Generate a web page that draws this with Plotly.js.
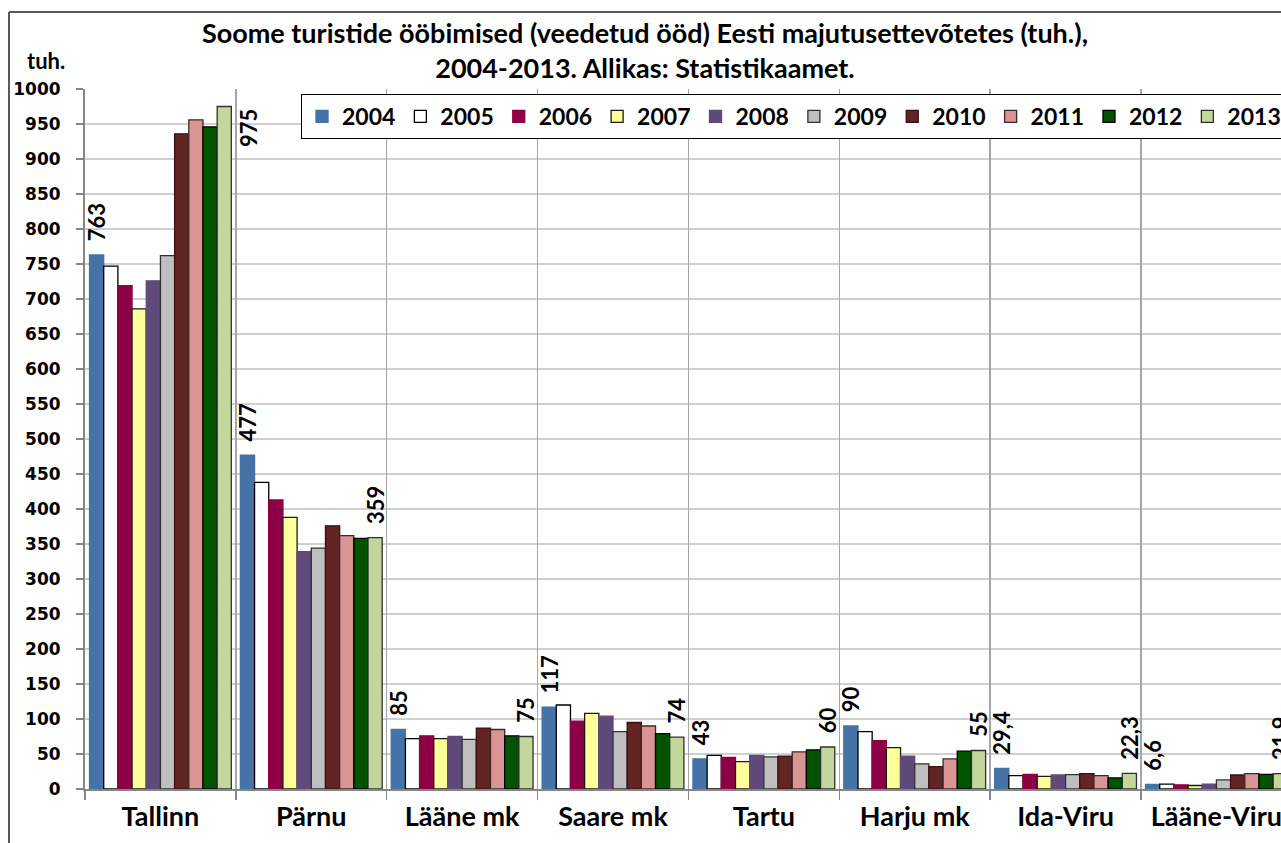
<!DOCTYPE html>
<html>
<head>
<meta charset="utf-8">
<script src="https://cdn.plot.ly/plotly-3.0.1.min.js"></script>
<style>html,body{margin:0;padding:0;background:#fff;}#chart{width:1281px;height:843px;}</style>
</head>
<body>
<div id="chart"></div>
<script>
// ---- data ----
const categories = ['Tallinn', 'Pärnu', 'Lääne mk', 'Saare mk', 'Tartu', 'Harju mk', 'Ida-Viru', 'Lääne-Viru'];
const years = ['2004', '2005', '2006', '2007', '2008', '2009', '2010', '2011', '2012', '2013'];
const v2004 = [763, 477, 85, 117, 43, 90, 29.4, 6.6];
const v2005 = [747, 438, 72, 120, 48, 82, 19, 7];
const v2006 = [719, 413, 76, 97, 45, 69, 21, 6];
const v2007 = [686, 388, 72, 108, 39, 59, 18, 5];
const v2008 = [726, 339, 75, 104, 48, 47, 20, 7];
const v2009 = [762, 344, 71, 82, 46, 36, 20.5, 13];
const v2010 = [936, 376, 87, 95, 47, 32, 22, 20];
const v2011 = [956, 362, 85, 90, 53, 43, 19, 22];
const v2012 = [946, 358, 76, 79, 56, 54, 16, 21];
const v2013 = [975, 359, 75, 74, 60, 55, 22.3, 21.9];
const yTicks = [0, 50, 100, 150, 200, 250, 300, 350, 400, 450, 500, 550, 600, 650, 700, 750, 800, 850, 900, 950, 1000];
const titleLine1 = 'Soome turistide ööbimised (veedetud ööd) Eesti majutusettevõtetes (tuh.),';
const titleLine2 = '2004-2013. Allikas: Statistikaamet.';
const unitLabel = 'tuh.';

// ---- styling ----
const seriesValues = [v2004, v2005, v2006, v2007, v2008, v2009, v2010, v2011, v2012, v2013];
const fills = ['#4573a7', '#ffffff', '#8e0045', '#ffff99', '#604a7b', '#bfbfbf', '#632523', '#d99594', '#005400', '#c3d69b'];
const outlines = ['#4573a7', '#000000', '#8e0045', '#1a1a1a', '#604a7b', '#303030', '#3a1010', '#3a2a2a', '#000000', '#303030'];
const labelled = {0: true, 9: true};
const fmt = v => String(v).replace('.', ',');
const LATO = 'Lato, "Noto Sans", sans-serif';

const traces = years.map((yr, i) => {
  const t = {
    type: 'bar',
    name: yr,
    x: categories,
    y: seriesValues[i],
    marker: {color: fills[i], line: {color: outlines[i], width: 1.3}},
    hoverinfo: 'x+y+name',
    cliponaxis: false
  };
  if (labelled[i]) {
    // leading no-break spaces leave a small gap between bar top and rotated label
    t.text = seriesValues[i].map((v, j) => (i === 9 && j === 0) ? '' : '\u00a0\u00a0' + fmt(v));
    t.textposition = 'outside';
    t.textangle = -90;
    t.constraintext = 'none';
    t.textfont = {family: LATO, size: 22, color: '#000', weight: 700};
  }
  return t;
});
// helper axis for category boundary lines
traces.push({type: 'scatter', x: [], y: [], xaxis: 'x2', yaxis: 'y', showlegend: false, hoverinfo: 'skip'});

const xRange = [-0.5, 7.428];

const layout = {
  width: 1281,
  height: 843,
  margin: {l: 85, r: 0, t: 89, b: 54, autoexpand: false},
  paper_bgcolor: '#ffffff',
  plot_bgcolor: '#ffffff',
  separators: ', ',
  barmode: 'group',
  bargap: 0.06,
  bargroupgap: 0,
  title: {
    text: titleLine1 + '<br>' + titleLine2,
    font: {family: LATO, size: 27, color: '#000', weight: 700},
    xref: 'container', x: 0.5035,
    yref: 'container', y: 1 - 43 / 843, yanchor: 'top'
  },
  xaxis: {
    type: 'category',
    range: xRange,
    showgrid: false,
    ticks: '',
    showline: true, linecolor: '#868686', linewidth: 2,
    tickfont: {family: LATO, size: 27, color: '#000', weight: 700},
    ticklabelstandoff: 3,
    fixedrange: true
  },
  xaxis2: {
    type: 'linear',
    overlaying: 'x',
    anchor: 'y',
    side: 'bottom',
    range: xRange,
    tick0: 0.5, dtick: 1,
    showgrid: true, gridcolor: '#a6a6a6', gridwidth: 1.5,
    ticks: 'outside', ticklen: 10, tickcolor: '#868686', tickwidth: 1.5,
    showticklabels: false,
    zeroline: false,
    showline: false,
    fixedrange: true
  },
  yaxis: {
    range: [0, 1000],
    tickvals: yTicks,
    ticktext: yTicks.map(String),
    showgrid: true, gridcolor: '#cfcfcf', gridwidth: 1.5,
    zeroline: false,
    showline: true, linecolor: '#868686', linewidth: 2,
    ticks: 'outside', ticklen: 7, tickcolor: '#868686', tickwidth: 1.5,
    tickfont: {family: '"DejaVu Sans", sans-serif', size: 17, color: '#000', weight: 700},
    ticklabelstandoff: 12,
    fixedrange: true
  },
  legend: {
    orientation: 'h',
    x: 0.1806, xanchor: 'left',
    y: 0.993, yanchor: 'top',
    bgcolor: '#ffffff',
    bordercolor: '#000000', borderwidth: 1,
    font: {family: LATO, size: 23, color: '#000', weight: 700},
    traceorder: 'normal'
  },
  annotations: [
    {
      xref: 'paper', yref: 'paper',
      x: (46 - 85) / 1196, y: (789 - 60) / 700,
      xanchor: 'center', yanchor: 'middle',
      text: unitLabel, showarrow: false,
      font: {family: LATO, size: 22, color: '#000', weight: 700}
    },
    {
      xref: 'x', yref: 'y',
      x: categories[0], y: v2013[0],
      xshift: 88, yanchor: 'top', xanchor: 'center',
      text: fmt(v2013[0]), textangle: -90, showarrow: false,
      font: {family: LATO, size: 22, color: '#000', weight: 700}
    }
  ],
  shapes: [
    {type: 'line', xref: 'paper', yref: 'paper',
     x0: (9 - 85) / 1196, x1: (9 - 85) / 1196, y0: (789 - 12) / 700, y1: (789 - 850) / 700,
     line: {color: '#595959', width: 2}},
    {type: 'line', xref: 'paper', yref: 'paper',
     x0: (9 - 85) / 1196, x1: 1.05, y0: (789 - 12) / 700, y1: (789 - 12) / 700,
     line: {color: '#595959', width: 2}}
  ],
  showlegend: true
};

Plotly.newPlot('chart', traces, layout, {displayModeBar: false, staticPlot: true});
</script>
</body>
</html>
